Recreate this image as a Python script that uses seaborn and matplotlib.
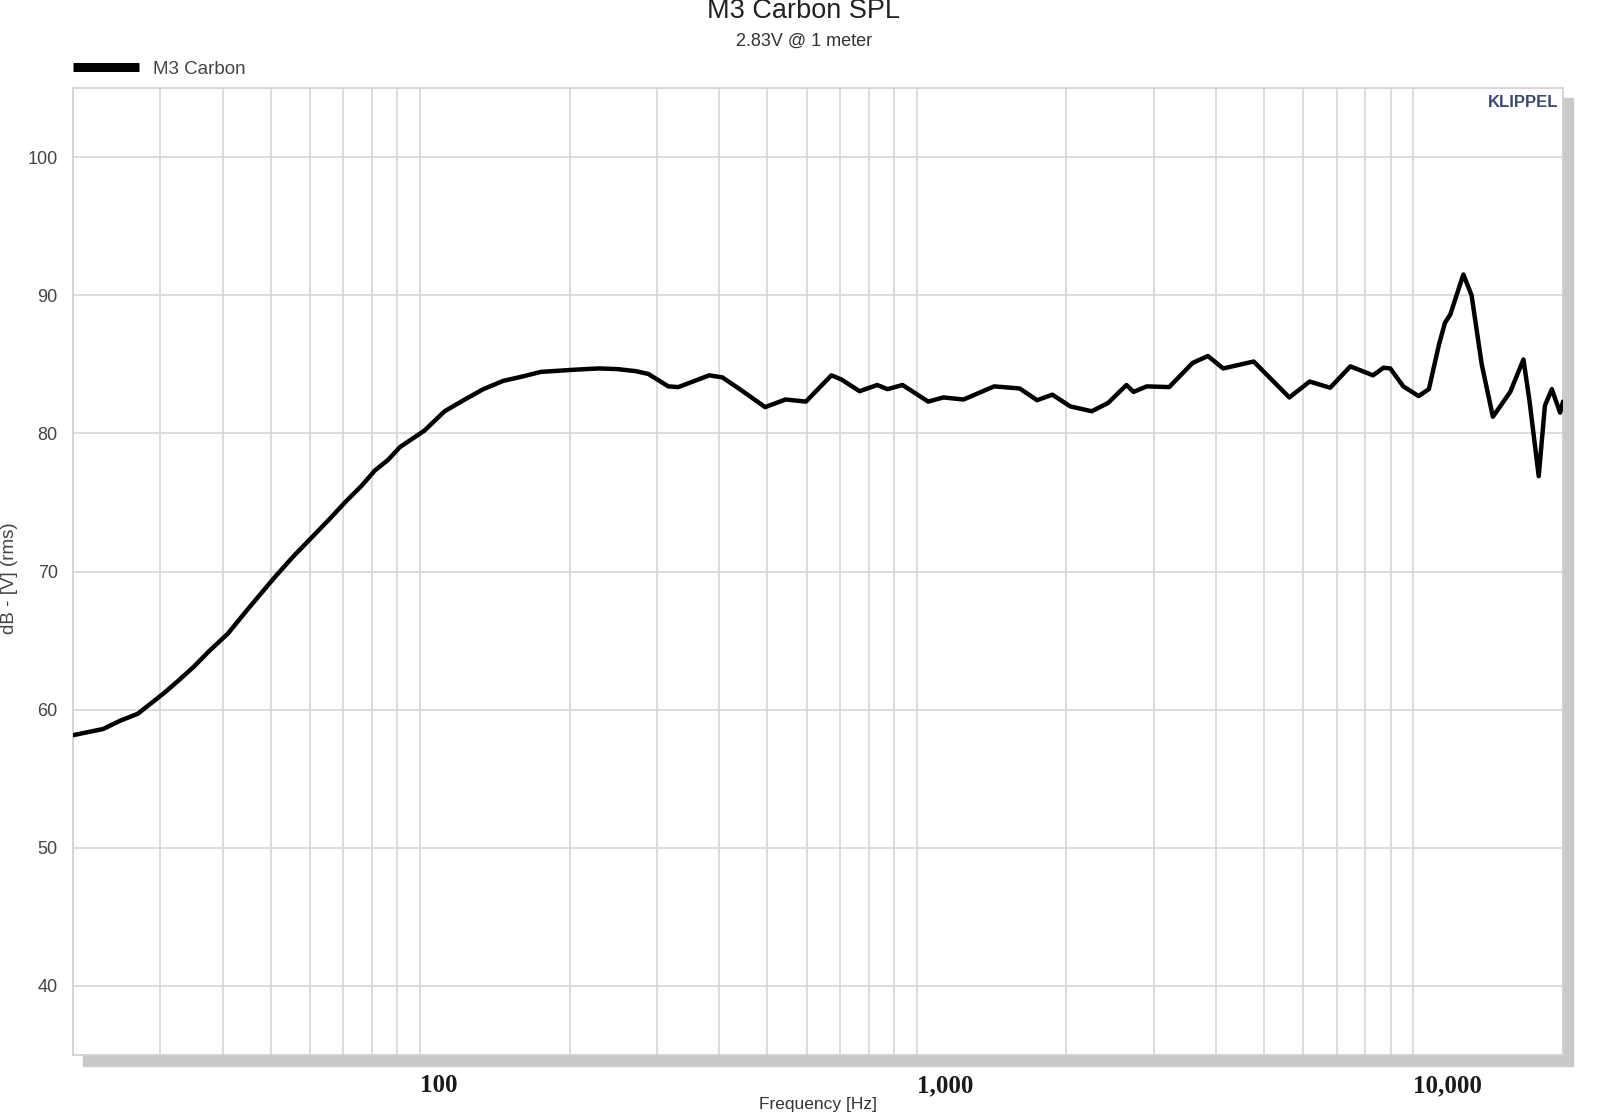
#=========================================================================
# M3 Carbon SPL 주파수 응답 그래프
#=========================================================================

import numpy as np
import pandas as pd
import matplotlib
matplotlib.use('Agg')
import matplotlib.pyplot as plt
import matplotlib.ticker as mticker
import matplotlib.transforms as mtrans
from matplotlib.lines import Line2D
from matplotlib.patches import Rectangle
import seaborn as sns

#-----------------------------------------------------------------------
# 데이터
#-----------------------------------------------------------------------
freq = [20, 23, 24.9, 27, 30.5, 32.6, 35, 37.5, 41, 44.8, 51, 55.4, 61,
        66.1, 71, 76.2, 81, 86.3, 91, 102, 112, 123, 134, 147, 160, 175,
        203, 229, 250, 272, 288, 316, 331, 382, 406, 440, 495, 544, 598,
        673, 705, 767, 832, 873, 936, 1054, 1131, 1242, 1431, 1611, 1746,
        1874, 2038, 2250, 2427, 2643, 2731, 2903, 3222, 3592, 3855, 4138,
        4768, 5623, 6180, 6795, 7464, 8290, 8700, 8980, 9540, 10240, 10740,
        11250, 11570, 11860, 12600, 13090, 13720, 14450, 15660, 16650,
        17130, 17870, 18390, 18990, 19730, 20000]
spl = [58.15, 58.6, 59.2, 59.7, 61.2, 62.1, 63.1, 64.2, 65.5, 67.2, 69.6,
       71.05, 72.6, 73.9, 75.1, 76.2, 77.3, 78.1, 79.0, 80.2, 81.6, 82.45,
       83.2, 83.8, 84.1, 84.45, 84.6, 84.7, 84.65, 84.5, 84.3, 83.4, 83.35,
       84.2, 84.05, 83.2, 81.9, 82.45, 82.3, 84.2, 83.9, 83.05, 83.5, 83.2,
       83.5, 82.3, 82.6, 82.45, 83.4, 83.25, 82.4, 82.8, 81.95, 81.6, 82.2,
       83.5, 83.0, 83.4, 83.35, 85.1, 85.6, 84.7, 85.2, 82.6, 83.75, 83.3,
       84.85, 84.2, 84.75, 84.7, 83.4, 82.7, 83.2, 86.4, 88.0, 88.6, 91.5,
       90.0, 85.0, 81.2, 83.0, 85.35, 82.3, 76.9, 82.0, 83.2, 81.5, 82.3]

series_name = 'M3 Carbon'
title = 'M3 Carbon SPL'
subtitle = '2.83V @ 1 meter'
x_label = 'Frequency [Hz]'
y_label = 'dB - [V] (rms)'
x_ticks = [100, 1000, 10000]
x_tick_labels = ['100', '1,000', '10,000']
y_ticks = [40, 50, 60, 70, 80, 90, 100]

#-----------------------------------------------------------------------
# 그래프
#-----------------------------------------------------------------------
sns.set_style('white')
plt.rcParams['font.family'] = ['Liberation Sans', 'DejaVu Sans']

W, H = 1600, 1118
fig = plt.figure(figsize=(W / 100, H / 100), dpi=100)
ax = fig.add_axes([73 / W, 1 - 1055 / H, 1490 / W, 967 / H])

# 그림자
fig.patches.append(Rectangle((83 / W, 1 - 1066 / H), 1490 / W, 968 / H,
                             transform=fig.transFigure, color='#c9c9c9',
                             zorder=-5))

df = pd.DataFrame({'freq': freq, 'spl': spl})
sns.lineplot(data=df, x='freq', y='spl', color='black', linewidth=3.2,
             ax=ax, legend=False, zorder=5)

ax.set_xscale('log')
ax.set_xlim(20, 20000)
ax.set_ylim(35, 105)

ax.xaxis.set_major_locator(mticker.FixedLocator(x_ticks))
ax.xaxis.set_minor_locator(mticker.LogLocator(base=10, subs=range(2, 10)))
ax.xaxis.set_minor_formatter(mticker.NullFormatter())
ax.set_xticklabels(x_tick_labels, family='Liberation Serif', weight='bold',
                   fontsize=18, color='#1a1a1a')
shift = mtrans.ScaledTranslation(-4 / 100, 0, fig.dpi_scale_trans)
for lbl in ax.get_xticklabels():
    lbl.set_ha('left')
    lbl.set_transform(lbl.get_transform() + shift)
ax.tick_params(axis='x', which='both', length=0, pad=14)

ax.set_yticks(y_ticks)
ax.yaxis.set_minor_locator(mticker.FixedLocator([45, 55, 65, 75, 85, 95]))
ax.tick_params(axis='y', which='major', direction='out', length=7, width=1,
               color='#cccccc', labelsize=13, labelcolor='#444444', pad=4)
ax.tick_params(axis='y', which='minor', direction='in', length=7, width=1,
               color='#cccccc')

ax.grid(True, axis='x', which='both', color='#d6d6d6', linewidth=1.2)
ax.grid(True, axis='y', which='major', color='#d6d6d6', linewidth=1.2)

for s in ax.spines.values():
    s.set_color('#d0d0d0')
    s.set_linewidth(1.2)

ax.set_xlabel(x_label, fontsize=12.5, color='#333333', labelpad=0)
ax.set_ylabel('')
fig.text(10 / W, 1 - 578 / H, y_label, rotation=90, ha='center', va='center',
         fontsize=13.5, color='#444444')

# 제목
fig.text(804 / W, 1 - 18 / H, title, ha='center', va='baseline',
         fontsize=19.5, color='#222222')
fig.text(804 / W, 1 - 46 / H, subtitle, ha='center', va='baseline',
         fontsize=13, color='#333333')

# 범례
ax.legend(handles=[Line2D([], [], color='black', linewidth=6.5,
                          solid_capstyle='butt')],
          labels=[series_name], loc='center left',
          bbox_to_anchor=(73 / W, 1 - 69 / H), bbox_transform=fig.transFigure,
          frameon=False, fontsize=13.5, handlelength=3.5, handletextpad=0.75,
          borderpad=0, borderaxespad=0, labelcolor='#444444')

ax.text(0.997, 0.993, 'KLIPPEL', transform=ax.transAxes, ha='right',
        va='top', fontsize=12, fontweight='bold', color='#3b4a72')

plt.savefig('out.png', dpi=100)
